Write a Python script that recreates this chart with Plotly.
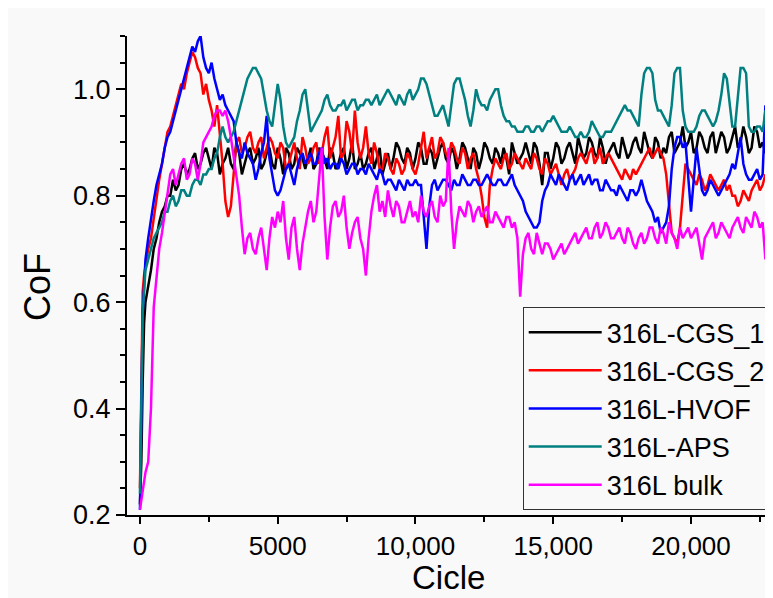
import plotly.graph_objs as go

# Cycle grid (finer at the very start where CoF jumps)
cycle = [0, 50, 100, 150] + list(range(200, 22701, 100))

cgs_1 = [
    0.22, 0.30, 0.45, 0.56,
    0.60, 0.63, 0.66, 0.70, 0.72, 0.75, 0.77, 0.78, 0.80,
    0.80, 0.83, 0.81, 0.82, 0.85, 0.86, 0.84, 0.85, 0.87, 0.88,
    0.85, 0.86, 0.88, 0.89, 0.87, 0.85, 0.89, 0.88, 0.84, 0.86,
    0.87, 0.89, 0.86, 0.85, 0.90, 0.88, 0.84, 0.86, 0.88, 0.89,
    0.86, 0.87, 0.89, 0.85, 0.86, 0.88, 0.89, 0.86, 0.85, 0.89,
    0.87, 0.84, 0.89, 0.88, 0.85, 0.86, 0.89, 0.88, 0.87, 0.85,
    0.87, 0.89, 0.85, 0.86, 0.89, 0.88, 0.87, 0.85, 0.89, 0.88,
    0.85, 0.86, 0.88, 0.89, 0.85, 0.87, 0.90, 0.85, 0.86, 0.88,
    0.85, 0.86, 0.88, 0.89, 0.85, 0.87, 0.89, 0.84, 0.86, 0.88,
    0.85, 0.87, 0.90, 0.89, 0.87, 0.86, 0.89, 0.88, 0.85, 0.87,
    0.90, 0.89, 0.86, 0.86, 0.89, 0.88, 0.85, 0.87, 0.89, 0.90,
    0.87, 0.86, 0.89, 0.88, 0.85, 0.87, 0.90, 0.89, 0.87, 0.85,
    0.89, 0.88, 0.85, 0.87, 0.90, 0.89, 0.87, 0.86, 0.89, 0.88,
    0.86, 0.89, 0.87, 0.84, 0.90, 0.88, 0.86, 0.87, 0.88, 0.90,
    0.88, 0.86, 0.90, 0.89, 0.86, 0.82, 0.88, 0.88, 0.85, 0.87,
    0.90, 0.89, 0.86, 0.87, 0.89, 0.90, 0.88, 0.86, 0.91, 0.89,
    0.87, 0.88, 0.91, 0.90, 0.88, 0.87, 0.91, 0.89, 0.86, 0.88,
    0.89, 0.90, 0.88, 0.87, 0.91, 0.89, 0.87, 0.88, 0.90, 0.91,
    0.89, 0.88, 0.92, 0.90, 0.88, 0.87, 0.91, 0.90, 0.87, 0.89,
    0.88, 0.91, 0.92, 0.88, 0.89, 0.90, 0.93, 0.89, 0.90, 0.92,
    0.88, 0.89, 0.92, 0.91, 0.89, 0.88, 0.91, 0.92, 0.88, 0.90,
    0.92, 0.91, 0.88, 0.89, 0.91, 0.93, 0.89, 0.90, 0.93, 0.91,
    0.88, 0.89, 0.93, 0.92, 0.89, 0.90, 0.88,
]

cgs_2 = [
    0.25, 0.50, 0.62, 0.65,
    0.67, 0.70, 0.72, 0.76, 0.80, 0.83, 0.86, 0.89, 0.92,
    0.93, 0.95, 0.97, 0.99, 1.01, 1.00, 1.03, 1.05, 1.07, 1.06,
    1.04, 1.03, 0.99, 1.01, 0.98, 0.96, 0.93, 0.97, 0.92, 0.86,
    0.79, 0.76, 0.78, 0.84, 0.90, 0.91, 0.88, 0.89, 0.91, 0.92,
    0.89, 0.88, 0.90, 0.91, 0.87, 0.89, 0.91, 0.90, 0.88, 0.87,
    0.90, 0.89, 0.85, 0.86, 0.88, 0.90, 0.87, 0.85, 0.91, 0.89,
    0.86, 0.87, 0.89, 0.90, 0.86, 0.88, 0.91, 0.93, 0.87, 0.89,
    0.91, 0.95, 0.87, 0.88, 0.94, 0.92, 0.88, 0.96, 0.90, 0.87,
    0.89, 0.93, 0.88, 0.86, 0.90, 0.88, 0.85, 0.85, 0.88, 0.87,
    0.85, 0.84, 0.87, 0.86, 0.84, 0.85, 0.88, 0.87, 0.85, 0.84,
    0.86, 0.89, 0.92, 0.87, 0.89, 0.91, 0.87, 0.88, 0.91, 0.90,
    0.88, 0.87, 0.90, 0.89, 0.87, 0.86, 0.89, 0.88, 0.85, 0.87,
    0.88, 0.85, 0.83, 0.80, 0.76, 0.74, 0.82, 0.85, 0.87, 0.86,
    0.85, 0.87, 0.88, 0.85, 0.86, 0.88, 0.87, 0.86, 0.85, 0.87,
    0.86, 0.85, 0.88, 0.87, 0.85, 0.84, 0.87, 0.86, 0.84, 0.85,
    0.86, 0.84, 0.82, 0.84, 0.85, 0.83, 0.84, 0.85, 0.87, 0.88,
    0.87, 0.86, 0.88, 0.89, 0.86, 0.87, 0.89, 0.86, 0.87, 0.88,
    0.87, 0.86, 0.85, 0.84, 0.83, 0.85, 0.84, 0.83, 0.85, 0.84,
    0.85, 0.86, 0.87, 0.88, 0.89, 0.87, 0.88, 0.89, 0.88, 0.87,
    0.84, 0.78, 0.73, 0.72, 0.71, 0.74, 0.80, 0.86, 0.85, 0.84,
    0.83, 0.82, 0.84, 0.83, 0.81, 0.82, 0.84, 0.83, 0.82, 0.81,
    0.82, 0.83, 0.81, 0.82, 0.80, 0.80, 0.78, 0.79, 0.81, 0.80,
    0.79, 0.81, 0.82, 0.83, 0.81, 0.82, 0.84,
]

hvof = [
    0.21, 0.40, 0.58, 0.63,
    0.68, 0.72, 0.76, 0.79, 0.82, 0.84, 0.86, 0.89, 0.91,
    0.92, 0.94, 0.96, 0.98, 1.00, 1.02, 1.04, 1.06, 1.08, 1.07,
    1.09, 1.10, 1.06, 1.04, 1.03, 1.05, 1.02, 1.00, 0.98, 0.99,
    0.97, 0.96, 0.95, 0.94, 0.90, 0.88, 0.87, 0.90, 0.88, 0.87,
    0.86, 0.83, 0.85, 0.88, 0.90, 0.95, 0.87, 0.84, 0.81, 0.80,
    0.81, 0.83, 0.85, 0.86, 0.84, 0.82, 0.85, 0.87, 0.88, 0.86,
    0.87, 0.88, 0.86, 0.86, 0.88, 0.89, 0.86, 0.87, 0.85, 0.86,
    0.86, 0.85, 0.87, 0.86, 0.84, 0.85, 0.86, 0.86, 0.84, 0.85,
    0.85, 0.84, 0.86, 0.85, 0.84, 0.83, 0.85, 0.84, 0.82, 0.83,
    0.83, 0.82, 0.81, 0.83, 0.82, 0.81, 0.83, 0.82, 0.82, 0.83,
    0.82, 0.82, 0.76, 0.70, 0.78, 0.82, 0.83, 0.81, 0.82, 0.83,
    0.83, 0.82, 0.81, 0.83, 0.82, 0.82, 0.84, 0.83, 0.82, 0.82,
    0.83, 0.83, 0.82, 0.82, 0.83, 0.84, 0.83, 0.82, 0.82, 0.83,
    0.83, 0.82, 0.82, 0.83, 0.84, 0.82, 0.81, 0.80, 0.79, 0.77,
    0.76, 0.75, 0.74, 0.74, 0.75, 0.79, 0.81, 0.82, 0.84, 0.83,
    0.82, 0.84, 0.83, 0.82, 0.81, 0.83, 0.84, 0.82, 0.83, 0.84,
    0.82, 0.83, 0.84, 0.82, 0.83, 0.83, 0.81, 0.81, 0.83, 0.82,
    0.81, 0.81, 0.80, 0.82, 0.81, 0.80, 0.79, 0.81, 0.81, 0.80,
    0.81, 0.83, 0.81, 0.79, 0.78, 0.77, 0.75, 0.76, 0.73, 0.74,
    0.75, 0.78, 0.85, 0.89, 0.91, 0.91, 0.89, 0.90, 0.84, 0.77,
    0.83, 0.89, 0.85, 0.81, 0.80, 0.81, 0.83, 0.82, 0.81, 0.80,
    0.81, 0.82, 0.83, 0.84, 0.86, 0.85, 0.88, 0.91, 0.86, 0.84,
    0.83, 0.83, 0.84, 0.85, 0.83, 0.84, 0.97,
]

aps = [
    0.24, 0.45, 0.58, 0.62,
    0.66, 0.68, 0.70, 0.72, 0.73, 0.74, 0.75, 0.77, 0.77,
    0.79, 0.80, 0.78, 0.79, 0.81, 0.81, 0.80, 0.80, 0.82, 0.83,
    0.83, 0.82, 0.84, 0.84, 0.85, 0.85, 0.87, 0.88, 0.91, 0.93,
    0.91, 0.90, 0.91, 0.92, 0.94, 0.96, 0.98, 1.00, 1.02, 1.03,
    1.04, 1.04, 1.03, 1.02, 0.99, 0.96, 0.94, 0.93, 0.97, 1.01,
    0.98, 0.93, 0.90, 0.89, 0.90, 0.91, 0.94, 0.96, 0.99, 1.00,
    0.96, 0.92, 0.93, 0.94, 0.95, 0.96, 0.98, 0.99, 0.97, 0.96,
    0.96, 0.97, 0.97, 0.98, 0.96, 0.97, 0.98, 0.98, 0.96, 0.97,
    0.97, 0.98, 0.98, 0.97, 0.98, 0.99, 0.97, 0.98, 0.99, 1.00,
    0.99, 0.98, 0.97, 0.99, 0.98, 0.97, 0.99, 1.00, 0.98, 0.99,
    1.00, 1.02, 1.02, 1.01, 0.99, 0.97, 0.95, 0.95, 0.96, 0.97,
    0.95, 0.93, 0.97, 1.01, 1.02, 1.02, 1.00, 0.98, 0.95, 0.93,
    0.96, 1.00, 0.98, 0.97, 0.97, 0.96, 0.98, 0.99, 1.00, 1.00,
    0.97, 0.95, 0.94, 0.94, 0.93, 0.93, 0.92, 0.92, 0.92, 0.93,
    0.93, 0.92, 0.92, 0.93, 0.93, 0.92, 0.93, 0.94, 0.94, 0.95,
    0.94, 0.93, 0.92, 0.92, 0.92, 0.93, 0.92, 0.91, 0.91, 0.92,
    0.91, 0.91, 0.92, 0.94, 0.93, 0.92, 0.91, 0.91, 0.92, 0.92,
    0.92, 0.93, 0.94, 0.95, 0.96, 0.97, 0.96, 0.96, 0.95, 0.94,
    0.93, 0.99, 1.03, 1.04, 1.04, 1.03, 0.98, 0.96, 0.96, 0.95,
    0.94, 0.93, 0.97, 1.03, 1.04, 1.04, 0.96, 0.93, 0.92, 0.92,
    0.92, 0.93, 0.95, 0.96, 0.96, 0.95, 0.94, 0.93, 0.94, 0.96,
    0.99, 1.03, 1.02, 0.97, 0.93, 0.93, 0.98, 1.04, 1.04, 1.03,
    0.93, 0.92, 0.92, 0.93, 0.93, 0.92, 0.96,
]

bulk = [
    0.21, 0.23, 0.25, 0.27,
    0.28, 0.30, 0.40, 0.59, 0.65, 0.70, 0.73, 0.77, 0.80,
    0.84, 0.85, 0.82, 0.84, 0.86, 0.87, 0.83, 0.84, 0.87, 0.86,
    0.83, 0.86, 0.90, 0.91, 0.92, 0.93, 0.95, 0.96, 0.96, 0.95,
    0.96, 0.94, 0.91, 0.87, 0.83, 0.80, 0.74, 0.69, 0.72, 0.73,
    0.70, 0.69, 0.72, 0.74, 0.70, 0.66, 0.72, 0.76, 0.74, 0.77,
    0.75, 0.79, 0.72, 0.68, 0.74, 0.76, 0.70, 0.66, 0.71, 0.74,
    0.77, 0.79, 0.75, 0.77, 0.83, 0.89, 0.76, 0.68, 0.74, 0.78,
    0.79, 0.76, 0.77, 0.80, 0.74, 0.70, 0.73, 0.75, 0.76, 0.72,
    0.70, 0.65, 0.72, 0.77, 0.80, 0.82, 0.77, 0.79, 0.76, 0.81,
    0.78, 0.76, 0.79, 0.78, 0.75, 0.75, 0.77, 0.79, 0.76, 0.77,
    0.75, 0.80, 0.77, 0.76, 0.78, 0.79, 0.76, 0.75, 0.80, 0.78,
    0.79, 0.89, 0.77, 0.70, 0.75, 0.78, 0.77, 0.76, 0.79, 0.78,
    0.75, 0.77, 0.78, 0.76, 0.77, 0.78, 0.75, 0.75, 0.77, 0.76,
    0.75, 0.74, 0.76, 0.76, 0.74, 0.75, 0.72, 0.61, 0.69, 0.72,
    0.73, 0.70, 0.69, 0.73, 0.71, 0.69, 0.71, 0.71, 0.70, 0.68,
    0.69, 0.70, 0.71, 0.69, 0.70, 0.71, 0.72, 0.73, 0.71, 0.72,
    0.73, 0.74, 0.72, 0.72, 0.74, 0.75, 0.72, 0.73, 0.75, 0.74,
    0.72, 0.72, 0.73, 0.74, 0.72, 0.71, 0.74, 0.73, 0.71, 0.70,
    0.72, 0.73, 0.71, 0.72, 0.74, 0.74, 0.72, 0.71, 0.74, 0.73,
    0.71, 0.75, 0.73, 0.72, 0.70, 0.74, 0.72, 0.73, 0.74, 0.72,
    0.73, 0.74, 0.71, 0.68, 0.72, 0.73, 0.74, 0.75, 0.72, 0.73,
    0.75, 0.74, 0.73, 0.72, 0.74, 0.75, 0.76, 0.74, 0.73, 0.76,
    0.75, 0.74, 0.77, 0.76, 0.74, 0.75, 0.68,
]

names = ['316L-CGS_1', '316L-CGS_2', '316L-HVOF', '316L-APS', '316L bulk']
colors = ['#000000', '#ff0000', '#0000ff', '#008080', '#ff00ff']
series = [cgs_1, cgs_2, hvof, aps, bulk]

xtick_vals = [0, 5000, 10000, 15000, 20000]
xtick_text = ['0', '5000', '10,000', '15,000', '20,000']

font = 'Liberation Sans, Arial, sans-serif'

traces = []
for name, color, vals in zip(names, colors, series):
    assert len(vals) == len(cycle), name
    traces.append(go.Scatter(x=cycle, y=vals, mode='lines', name=name,
                             line=dict(color=color, width=2.5)))

# page body keeps its default 8px margin, so the figure is 8px smaller
layout = go.Layout(
    width=765, height=590,
    margin=dict(l=119, r=1, t=28, b=83),
    paper_bgcolor='#f9f9f9',
    plot_bgcolor='#f9f9f9',
    font=dict(family=font, color='black', size=27),
    showlegend=True,
    legend=dict(x=0.998, y=0.01, xanchor='right', yanchor='bottom',
                bgcolor='#f9f9f9', bordercolor='#333333', borderwidth=1,
                font=dict(size=27), tracegroupgap=0, itemwidth=73),
    xaxis=dict(range=[-470, 22940], showgrid=False, zeroline=False,
               automargin=False, tickfont=dict(size=26),
               showline=True, linecolor='black', linewidth=2,
               ticks='outside', ticklen=7, tickwidth=2, tickcolor='black',
               tickvals=xtick_vals, ticktext=xtick_text,
               minor=dict(ticks='outside', dtick=2500, tick0=0, ticklen=5,
                          tickwidth=2, tickcolor='black')),
    yaxis=dict(range=[0.2, 1.10], showgrid=False, zeroline=False,
               automargin=False,
               showline=True, linecolor='black', linewidth=2,
               ticks='outside', ticklen=9, tickwidth=2, tickcolor='black',
               tick0=0.2, dtick=0.2, tickformat='.1f',
               minor=dict(ticks='outside', dtick=0.05, tick0=0.2, ticklen=5,
                          tickwidth=2, tickcolor='black')),
    annotations=[
        dict(text='Cicle', xref='paper', yref='paper', x=0.499, y=-0.174,
             xanchor='center', yanchor='bottom', showarrow=False,
             font=dict(size=33)),
        dict(text='CoF', xref='paper', yref='paper', x=-0.138, y=0.476,
             xanchor='center', yanchor='middle', showarrow=False,
             textangle=-90, font=dict(size=36)),
    ],
)

fig = go.Figure(data=traces, layout=layout)
fig.write_html("out.html")
